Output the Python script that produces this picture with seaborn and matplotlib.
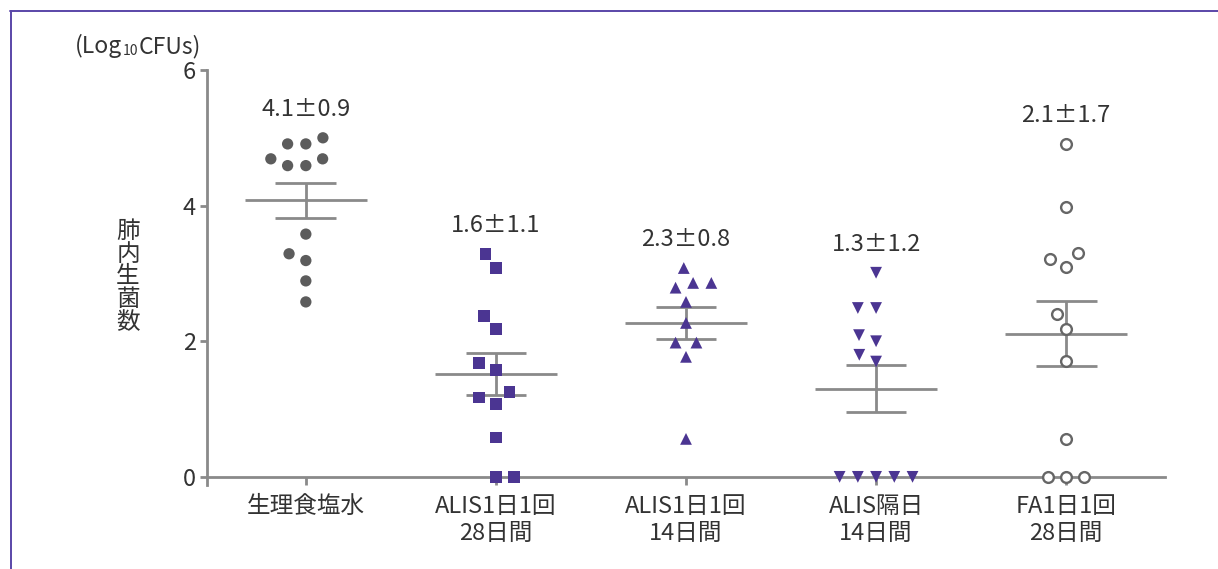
import numpy as np
import pandas as pd
import matplotlib
matplotlib.use("Agg")
import matplotlib.pyplot as plt
import seaborn as sns
from matplotlib.lines import Line2D

# ---------------- data ----------------
groups = ["生理食塩水", "ALIS1日1回\n28日間", "ALIS1日1回\n14日間", "ALIS隔日\n14日間", "FA1日1回\n28日間"]
saline = [5.0, 4.91, 4.91, 4.69, 4.69, 4.59, 4.59, 3.58, 3.29, 3.19, 2.89, 2.58]
alis_daily_28 = [3.29, 3.08, 2.37, 2.18, 1.68, 1.58, 1.25, 1.17, 1.08, 0.58, 0.0, 0.0]
alis_daily_14 = [3.08, 2.86, 2.86, 2.79, 2.58, 2.27, 1.98, 1.98, 1.77, 0.56]
alis_alt_14 = [3.01, 2.49, 2.49, 2.09, 2.0, 1.8, 1.7, 0.0, 0.0, 0.0, 0.0, 0.0]
fa_daily_28 = [4.91, 3.98, 3.30, 3.22, 3.10, 2.40, 2.18, 1.71, 0.56, 0.0, 0.0, 0.0]
stat_labels = ["4.1±0.9", "1.6±1.1", "2.3±0.8", "1.3±1.2", "2.1±1.7"]
y_ticks = [0, 2, 4, 6]

series = [saline, alis_daily_28, alis_daily_14, alis_alt_14, fa_daily_28]

# ---------------- style ----------------
sns.set_style("white")
plt.rcParams["font.family"] = ["Noto Sans CJK JP", "DejaVu Sans"]
TXT = "#333333"
GREY_LINE = "#8a8a8a"
PURPLE = "#4b3592"
DARK = "#5c5c5c"
FS = 17

styles = [
    dict(marker="o", face=DARK, edge="none", lw=0, s=66),
    dict(marker="s", face=PURPLE, edge="none", lw=0, s=72),
    dict(marker="^", face=PURPLE, edge="none", lw=0, s=72),
    dict(marker="v", face=PURPLE, edge="none", lw=0, s=72),
    dict(marker="o", face="white", edge="#666666", lw=1.7, s=60),
]

W, H = 1218, 569
fig = plt.figure(figsize=(W / 100, H / 100), dpi=100)
ax = fig.add_axes([207 / W, 1 - 485 / H, (1165 - 207) / W, (485 - 70) / H])

colls = []
for i, vals in enumerate(series):
    df = pd.DataFrame({"group": groups[i], "value": vals})
    n0 = len(ax.collections)
    st = styles[i]
    sns.swarmplot(data=df, x="group", y="value", order=groups, marker=st["marker"],
                  size=12.5, color=st["face"], linewidth=0, ax=ax, warn_thresh=1.0)
    for c in ax.collections[n0:]:
        if len(c.get_offsets()) > 0:
            colls.append((c, st))

# mean +/- SEM
for i, vals in enumerate(series):
    v = np.asarray(vals, float)
    m = v.mean()
    sem = v.std(ddof=1) / np.sqrt(len(v))
    kw = dict(color=GREY_LINE, lw=2.0, solid_capstyle="butt", zorder=2)
    ax.plot([i - 0.32, i + 0.32], [m, m], **kw)
    ax.plot([i, i], [m - sem, m + sem], **kw)
    ax.plot([i - 0.16, i + 0.16], [m + sem, m + sem], **kw)
    ax.plot([i - 0.16, i + 0.16], [m - sem, m - sem], **kw)
    ax.text(i, v.max() + 0.42, stat_labels[i], ha="center", va="center",
            fontsize=FS, color=TXT)

ax.set_xlim(-0.52, 4.52)
ax.set_ylim(-0.12, 6)
ax.set_yticks(y_ticks)
ax.set_xlabel("")
ax.set_ylabel("")

for sp in ["top", "right"]:
    ax.spines[sp].set_visible(False)
for sp in ["left", "bottom"]:
    ax.spines[sp].set_color(GREY_LINE)
    ax.spines[sp].set_linewidth(2.0)
ax.spines["bottom"].set_position(("data", 0))
ax.tick_params(axis="y", left=True, length=5, width=2.0, color=GREY_LINE, pad=3,
               labelsize=FS, labelcolor=TXT)
ax.tick_params(axis="x", bottom=True, length=6, width=2.0, color=GREY_LINE, pad=7,
               labelsize=FS, labelcolor=TXT)
for lab in ax.get_xticklabels():
    lab.set_linespacing(1.2)

# y-axis title (vertical stacked characters)
fig.text(128 / W, 1 - 277 / H, "肺\n内\n生\n菌\n数", ha="center", va="center",
         fontsize=FS, color=TXT, linespacing=0.98)

# unit label with subscript
t1 = fig.text(75 / W, 1 - 53 / H, "(Log", ha="left", va="baseline", fontsize=16.5, color=TXT)
t2 = ax.annotate("10", xy=(1, 0), xycoords=t1, xytext=(0.3, 0), textcoords="offset points",
                 ha="left", va="bottom", fontsize=10, color=TXT, annotation_clip=False)
t3 = ax.annotate("CFUs)", xy=(1, 0), xycoords=t2, xytext=(0.3, 0), textcoords="offset points",
                 ha="left", va="bottom", fontsize=16.5, color=TXT, annotation_clip=False)

# frame border (top and left visible)
fig.add_artist(Line2D([10 / W, 1], [1 - 10.5 / H, 1 - 10.5 / H], transform=fig.transFigure,
                      color="#5a46a8", lw=1.4))
fig.add_artist(Line2D([10.5 / W, 10.5 / W], [0, 1 - 10.5 / H], transform=fig.transFigure,
                      color="#5a46a8", lw=1.4))

# lay out swarms with wide spacing, then apply final marker look
fig.canvas.draw()
for coll, st in colls:
    coll.__dict__.pop("draw", None)
    coll.set_sizes([st["s"]])
    coll.set_facecolor(st["face"])
    coll.set_edgecolor(st["edge"])
    coll.set_linewidth(st["lw"])
    coll.set_zorder(3)
    coll.set_clip_on(False)

fig.savefig("out.png", dpi=100)
